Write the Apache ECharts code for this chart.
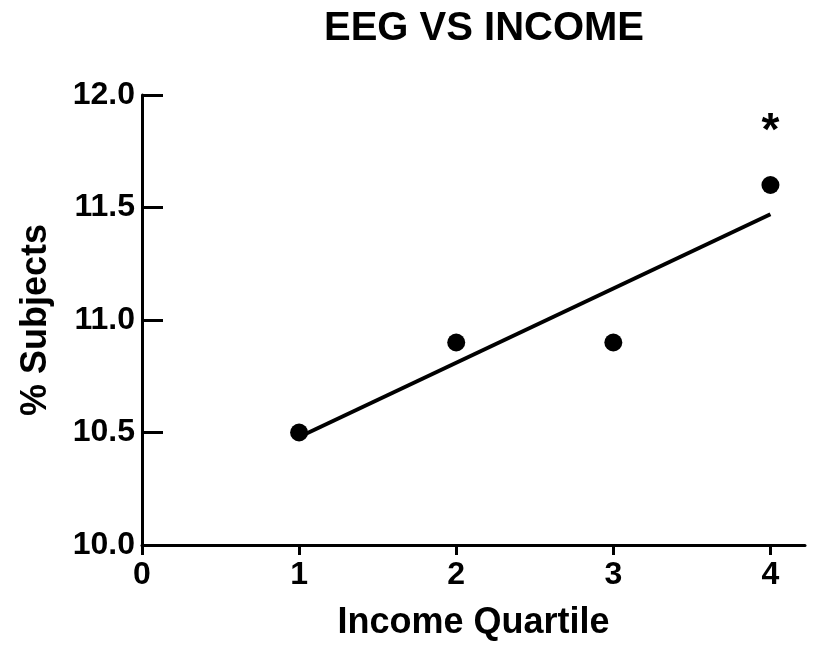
<!DOCTYPE html>
<html>
<head>
<meta charset="utf-8">
<title>EEG VS INCOME</title>
<script src="https://cdn.jsdelivr.net/npm/echarts@6/dist/echarts.min.js"></script>
<style>
  html, body { margin: 0; padding: 0; background: #fff; }
  #chart { width: 831px; height: 646px; }
</style>
</head>
<body>
<div id="chart"></div>
<script>
// income quartile vs % subjects with abnormal EEG
const quartiles = [1, 2, 3, 4];
const subjects = [10.5, 10.9, 10.9, 11.6];
// fitted line at its two ends
const fitX = [1, 4];
const fitY = [10.48, 11.47];
// significance mark above the 4th quartile
const starX = [4];
const starY = [11.87];
const xTicks = [0, 1, 2, 3, 4];
const yTicks = [10.0, 10.5, 11.0, 11.5, 12.0];

const font = "Liberation Sans";

const chart = echarts.init(document.getElementById("chart"));

chart.setOption({
  animation: false,
  backgroundColor: "#fff",
  title: {
    text: "EEG VS INCOME",
    left: 479,
    top: 4,
    textAlign: "center",
    textStyle: { fontFamily: font, fontWeight: "bold", fontSize: 40, color: "#000" },
  },
  grid: { left: 142, top: 95, right: 26, bottom: 101, outerBoundsMode: "none", containLabel: false },
  xAxis: {
    type: "value",
    min: 0,
    max: 4.22,
    interval: 1,
    name: "Income Quartile",
    nameLocation: "middle",
    nameGap: 60,
    nameTextStyle: { fontFamily: font, fontWeight: "bold", fontSize: 36, color: "#000" },
    axisLine: { lineStyle: { color: "#000", width: 3 } },
    axisTick: { show: true, inside: false, length: 10, lineStyle: { color: "#000", width: 3 } },
    axisLabel: {
      fontFamily: font, fontWeight: "bold", fontSize: 32, color: "#000", margin: 14,
      showMaxLabel: false,
      formatter: function (v) { return xTicks.indexOf(v) >= 0 ? String(v) : ""; },
    },
    splitLine: { show: false },
  },
  yAxis: {
    type: "value",
    min: 10,
    max: 12,
    interval: 0.5,
    name: "% Subjects",
    nameLocation: "middle",
    nameGap: 88,
    nameRotate: 90,
    nameTextStyle: { fontFamily: font, fontWeight: "bold", fontSize: 36, color: "#000" },
    axisLine: { lineStyle: { color: "#000", width: 3 } },
    axisTick: { show: true, inside: true, length: 21, lineStyle: { color: "#000", width: 3 } },
    axisLabel: {
      fontFamily: font, fontWeight: "bold", fontSize: 32, color: "#000", margin: 7,
      formatter: function (v) {
        return yTicks.indexOf(v) >= 0 ? v.toFixed(1) : "";
      },
    },
    splitLine: { show: false },
  },
  series: [
    {
      type: "line",
      data: fitX.map((x, i) => [x, fitY[i]]),
      symbol: "none",
      lineStyle: { color: "#000", width: 4 },
      z: 2,
    },
    {
      type: "scatter",
      data: quartiles.map((x, i) => [x, subjects[i]]),
      symbol: "circle",
      symbolSize: 18,
      itemStyle: { color: "#000", opacity: 1 },
      z: 3,
    },
    {
      type: "scatter",
      data: starX.map((x, i) => [x, starY[i]]),
      symbolSize: 0,
      itemStyle: { opacity: 1 },
      label: {
        show: true,
        position: "inside",
        formatter: "*",
        fontFamily: font,
        fontWeight: "bold",
        fontSize: 46,
        color: "#000",
        offset: [0, 8],
      },
    },
  ],
});
</script>
</body>
</html>
